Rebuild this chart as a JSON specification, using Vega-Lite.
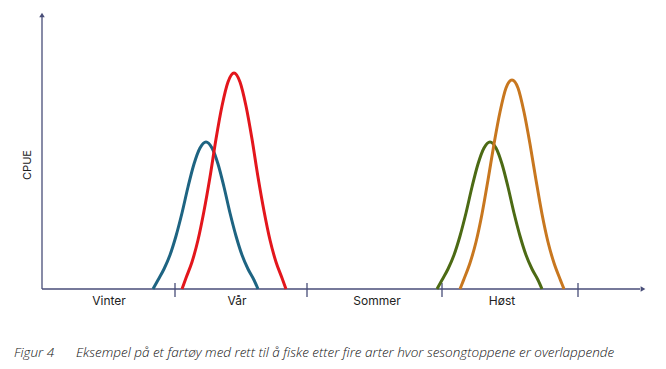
{
  "$schema": "https://vega.github.io/schema/vega-lite/v6.json",
  "autosize": "none",
  "width": 603,
  "height": 279,
  "padding": {"left": 42, "top": 10, "right": 21, "bottom": 80},
  "background": "white",
  "config": {"view": {"stroke": null}},
  "datasets": {
    "curves": [
      {"series": "A", "x": 153, "y": 0}, {"series": "A", "x": 158, "y": 9}, {"series": "A", "x": 164, "y": 20}, {"series": "A", "x": 170, "y": 34}, {"series": "A", "x": 176, "y": 53}, {"series": "A", "x": 182, "y": 76}, {"series": "A", "x": 188, "y": 102}, {"series": "A", "x": 194, "y": 125}, {"series": "A", "x": 200, "y": 141}, {"series": "A", "x": 206, "y": 147}, {"series": "A", "x": 212, "y": 141}, {"series": "A", "x": 218, "y": 125}, {"series": "A", "x": 224, "y": 102}, {"series": "A", "x": 230, "y": 76}, {"series": "A", "x": 236, "y": 53}, {"series": "A", "x": 242, "y": 34}, {"series": "A", "x": 248, "y": 20}, {"series": "A", "x": 254, "y": 9}, {"series": "A", "x": 258, "y": 0},
      {"series": "B", "x": 182, "y": 0}, {"series": "B", "x": 186, "y": 11}, {"series": "B", "x": 192, "y": 27}, {"series": "B", "x": 198, "y": 49}, {"series": "B", "x": 204, "y": 78}, {"series": "B", "x": 210, "y": 112}, {"series": "B", "x": 216, "y": 150}, {"series": "B", "x": 222, "y": 183}, {"series": "B", "x": 228, "y": 207}, {"series": "B", "x": 234, "y": 216}, {"series": "B", "x": 240, "y": 207}, {"series": "B", "x": 246, "y": 183}, {"series": "B", "x": 252, "y": 150}, {"series": "B", "x": 258, "y": 112}, {"series": "B", "x": 264, "y": 78}, {"series": "B", "x": 270, "y": 49}, {"series": "B", "x": 276, "y": 27}, {"series": "B", "x": 282, "y": 11}, {"series": "B", "x": 286, "y": 0},
      {"series": "C", "x": 437, "y": 0}, {"series": "C", "x": 442, "y": 9}, {"series": "C", "x": 448, "y": 20}, {"series": "C", "x": 454, "y": 34}, {"series": "C", "x": 460, "y": 53}, {"series": "C", "x": 466, "y": 76}, {"series": "C", "x": 472, "y": 102}, {"series": "C", "x": 478, "y": 125}, {"series": "C", "x": 484, "y": 141}, {"series": "C", "x": 490, "y": 147}, {"series": "C", "x": 496, "y": 141}, {"series": "C", "x": 502, "y": 125}, {"series": "C", "x": 508, "y": 102}, {"series": "C", "x": 514, "y": 76}, {"series": "C", "x": 520, "y": 53}, {"series": "C", "x": 526, "y": 34}, {"series": "C", "x": 532, "y": 20}, {"series": "C", "x": 538, "y": 9}, {"series": "C", "x": 542, "y": 0},
      {"series": "D", "x": 460, "y": 0}, {"series": "D", "x": 464, "y": 10}, {"series": "D", "x": 470, "y": 26}, {"series": "D", "x": 476, "y": 47}, {"series": "D", "x": 482, "y": 75}, {"series": "D", "x": 488, "y": 109}, {"series": "D", "x": 494, "y": 145}, {"series": "D", "x": 500, "y": 177}, {"series": "D", "x": 506, "y": 201}, {"series": "D", "x": 512, "y": 209}, {"series": "D", "x": 518, "y": 201}, {"series": "D", "x": 524, "y": 177}, {"series": "D", "x": 530, "y": 145}, {"series": "D", "x": 536, "y": 109}, {"series": "D", "x": 542, "y": 75}, {"series": "D", "x": 548, "y": 47}, {"series": "D", "x": 554, "y": 26}, {"series": "D", "x": 560, "y": 10}, {"series": "D", "x": 564, "y": 0}
    ],
    "axes": [
      {"x": 42, "x2": 42, "y": 0, "y2": 272},
      {"x": 42, "x2": 640, "y": 0, "y2": 0},
      {"x": 175, "x2": 175, "y": -8, "y2": 6},
      {"x": 307, "x2": 307, "y": -8, "y2": 6},
      {"x": 442, "x2": 442, "y": -8, "y2": 6},
      {"x": 578, "x2": 578, "y": -8, "y2": 6}
    ],
    "arrows": [
      {"x": 42, "y": 274, "shape": "triangle-up"},
      {"x": 643, "y": 0, "shape": "triangle-right"}
    ],
    "seasons": [
      {"label": "Vinter", "x": 109, "y": -12},
      {"label": "Vår", "x": 237, "y": -12},
      {"label": "Sommer", "x": 377, "y": -12},
      {"label": "Høst", "x": 502, "y": -12}
    ],
    "caption": [
      {"label": "Figur 4", "x": 14, "y": -64},
      {"label": "Eksempel på et fartøy med rett til å fiske etter fire arter hvor sesongtoppene er overlappende", "x": 76, "y": -64}
    ],
    "ylabel": [
      {"label": "CPUE", "x": 28, "y": 124}
    ]
  },
  "layer": [
    {
      "data": {"name": "axes"},
      "mark": {"type": "rule", "color": "#484d78", "strokeWidth": 1.3},
      "encoding": {
        "x": {"field": "x", "type": "quantitative", "scale": {"domain": [42, 645], "nice": false, "zero": false}, "axis": null},
        "x2": {"field": "x2"},
        "y": {"field": "y", "type": "quantitative", "scale": {"domain": [0, 279], "nice": false}, "axis": null},
        "y2": {"field": "y2"}
      }
    },
    {
      "data": {"name": "arrows"},
      "mark": {"type": "point", "filled": true, "color": "#484d78", "size": 30, "opacity": 1},
      "encoding": {
        "x": {"field": "x", "type": "quantitative"},
        "y": {"field": "y", "type": "quantitative"},
        "shape": {"field": "shape", "type": "nominal", "scale": {"domain": ["triangle-up", "triangle-right"], "range": ["triangle-up", "triangle-right"]}, "legend": null}
      }
    },
    {
      "data": {"name": "curves"},
      "mark": {"type": "line", "interpolate": "monotone", "strokeWidth": 3},
      "encoding": {
        "x": {"field": "x", "type": "quantitative"},
        "y": {"field": "y", "type": "quantitative"},
        "color": {"field": "series", "type": "nominal", "scale": {"domain": ["A", "B", "C", "D"], "range": ["#1e6482", "#e3161c", "#4c6a14", "#c8771f"]}, "legend": null}
      }
    },
    {
      "data": {"name": "seasons"},
      "mark": {"type": "text", "font": "Inter", "fontSize": 12, "color": "#222222", "baseline": "middle", "align": "center"},
      "encoding": {
        "x": {"field": "x", "type": "quantitative"},
        "y": {"field": "y", "type": "quantitative"},
        "text": {"field": "label"}
      }
    },
    {
      "data": {"name": "caption"},
      "mark": {"type": "text", "font": "Open Sans", "fontSize": 13.5, "fontStyle": "italic", "fontWeight": 300, "color": "#111111", "baseline": "middle", "align": "left"},
      "encoding": {
        "x": {"field": "x", "type": "quantitative"},
        "y": {"field": "y", "type": "quantitative"},
        "text": {"field": "label"}
      }
    },
    {
      "data": {"name": "ylabel"},
      "mark": {"type": "text", "font": "Inter", "fontSize": 11, "color": "#222222", "baseline": "middle", "align": "center", "angle": 270},
      "encoding": {
        "x": {"field": "x", "type": "quantitative"},
        "y": {"field": "y", "type": "quantitative"},
        "text": {"field": "label"}
      }
    }
  ]
}
